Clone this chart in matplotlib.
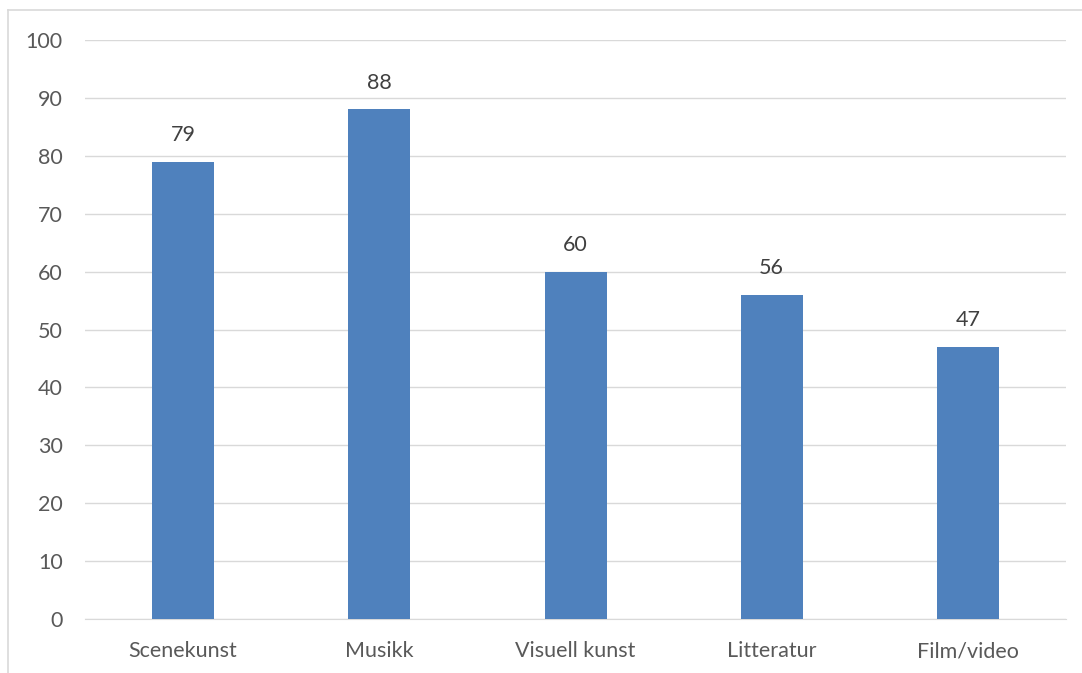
import matplotlib.pyplot as plt
from matplotlib.lines import Line2D

categories = ["Scenekunst", "Musikk", "Visuell kunst", "Litteratur", "Film/video"]
values = [79, 88, 60, 56, 47]

plt.rcParams['font.family'] = ['Lato', 'DejaVu Sans']

fig = plt.figure(figsize=(10.82, 6.73), dpi=100)
ax = fig.add_axes([0.0786, 0.0802, 0.9066, 0.8604])

x = range(len(categories))
bars = ax.bar(x, values, width=0.316, color="#4F81BD", zorder=3)

for b, v in zip(bars, values):
    ax.annotate(str(v), (b.get_x() + b.get_width() / 2, v), xytext=(0, 12),
                textcoords="offset points", ha="center", va="bottom",
                fontsize=15.5, color="#404040")

ax.set_xlim(-0.5, len(categories) - 0.5)
ax.set_ylim(0, 100)
ax.set_yticks(range(0, 101, 10))
ax.set_xticks(list(x))
ax.set_xticklabels(categories)
ax.grid(axis="y", color="#D9D9D9", linewidth=1, zorder=0)
for s in ["top", "right", "left"]:
    ax.spines[s].set_visible(False)
ax.spines["bottom"].set_color("#D9D9D9")
ax.tick_params(axis="both", length=0, labelsize=15.5, labelcolor="#595959")
ax.tick_params(axis="y", pad=16)
ax.tick_params(axis="x", pad=16)

# chart area border (only top and left edge fall inside the image)
fig.add_artist(Line2D([0.0074, 0.0074], [0, 0.9844], color="#D9D9D9", linewidth=1.2))
fig.add_artist(Line2D([0.0074, 1.0], [0.9844, 0.9844], color="#D9D9D9", linewidth=1.2))

fig.savefig("out.png", dpi=100)
